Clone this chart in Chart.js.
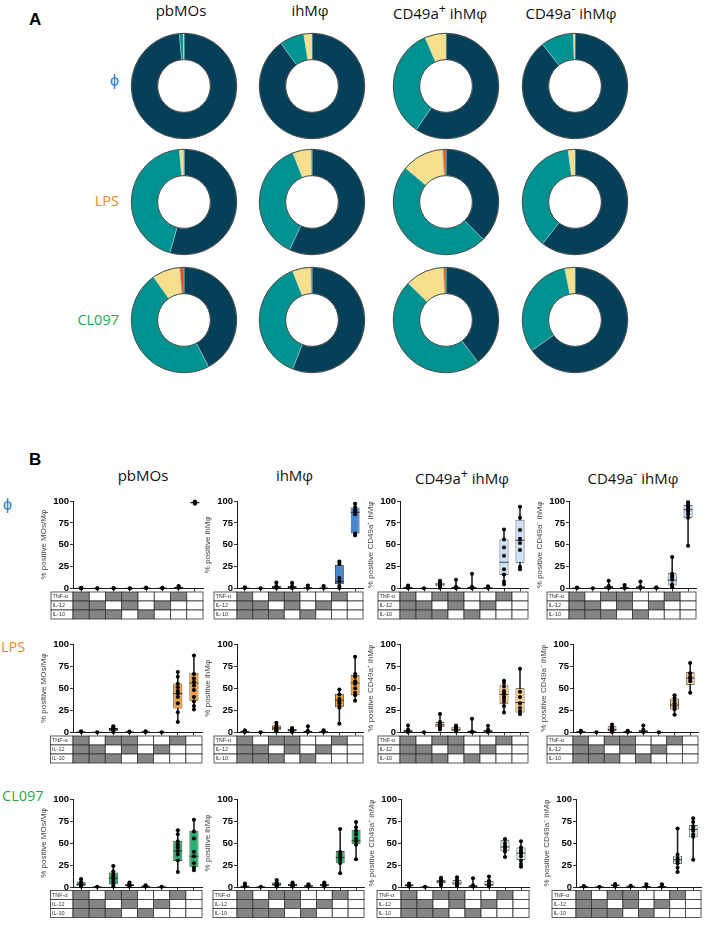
<!DOCTYPE html>
<html>
<head>
<meta charset="utf-8">
<script src="https://cdn.jsdelivr.net/npm/chart.js@4.4.1/dist/chart.umd.min.js"></script>
<style>
body{margin:0;background:#fff;width:708px;height:926px;position:relative;overflow:hidden;font-family:"Open Sans",sans-serif}
.t{position:absolute;white-space:nowrap;line-height:1.25}
canvas{position:absolute}
</style>
</head>
<body>
<script>
// ---------------- data: part A (share of cells making 0/1/2/3 cytokines) ----------------
const stimuli = ["ϕ", "LPS", "CL097"];
const cellTypes = ["pbMOs", "ihMφ", "CD49a<sup>+</sup> ihMφ", "CD49a<sup>-</sup> ihMφ"];
const sliceLabels = ["0 cytokines", "1 cytokine", "2 cytokines", "3 cytokines"];
const phiSlices = [[98.6, 1.2, 0.2, 0], [90, 7.5, 2.5, 0], [59.5, 34, 6.5, 0], [89.5, 10, 0.5, 0]];
const lpsSlices = [[54.3, 44.3, 1.3, 0.1], [57, 37.1, 5.6, 0.3], [37.5, 48.6, 12.9, 1], [60.5, 37.4, 2.1, 0]];
const clSlices = [[42.3, 47.9, 8.5, 1.3], [56, 38, 5.6, 0.4], [39.7, 47.6, 11.9, 0.8], [65.2, 31.7, 3.1, 0]];

// ---------------- data: part B (box = [min, q1, median, q3, max]) ----------------
const comboLabels = ["1", "2", "3", "4", "5", "6", "7", "8"];
const cytokineNames = ["TNF-α", "IL-12", "IL-10"];
const tnfRow = [1, 0, 1, 1, 0, 0, 1, 0];
const il12Row = [1, 1, 0, 1, 0, 1, 0, 0];
const il10Row = [1, 1, 1, 0, 1, 0, 0, 0];
const yTicks = [0, 25, 50, 75, 100];

const phiPbBox = [[0,0,0.3,0.6,1],[0,0,0.2,0.4,0.5],[0,0,0.2,0.5,0.8],[0,0,0.2,0.5,0.8],[0,0.2,0.5,1,1.5],[0,0.1,0.4,0.8,1.2],[0,0.5,1,2,3],[96.5,97.5,98,98.8,99.5]];
const phiPbPts = [[0,0.3,0.6,1],[0,0.3],[0,0.5],[0,0.4],[0.3,1.2],[0.2,0.8],[0.5,1.5,3],[97,98,98.5,99.3]];
const phiIhBox = [[0,0.2,0.5,1,1.5],[0,0,0.3,0.5,0.8],[0,0.5,1.5,3,7],[0,0.5,1.5,3,6.5],[0,0.2,0.5,1.5,3.5],[0,0.2,0.5,1.2,3],[0.5,5,8,27,31],[60,63,87,92.5,97]];
const phiIhPts = [[0.5,1.5],[0.3],[0.5,1.5,3,7],[0.5,1.5,3,6.5],[0.5,3.5],[0.5,3],[31,28,12,8,3,0.5],[97,93,90,88,85,63,61]];
const phiCdpBox = [[0,0.3,0.8,2,3.5],[0,0,0.3,0.5,0.8],[1,2.5,5,6.5,9],[0,0.3,1,2,10],[0,0.3,1,2,17],[0,0.3,0.8,1.5,2.5],[5,15.5,30,56,67.5],[22,29.5,55,78.5,93.5]];
const phiCdpPts = [[0.5,2,3.5],[0.3],[1,2.5,4,5,6,7,9],[0.5,1,2,10],[0.5,1,2,17],[0.5,1.5,2.5],[67.5,56,47,37.5,22,16,8,5],[93.5,81,67,57,52,44,25,22]];
const phiCdmBox = [[0,0.2,0.5,1,1.5],[0,0,0.2,0.4,0.6],[0,0.5,1.5,3,9],[0,0.2,0.8,1.5,4],[0,0.3,1,2.5,8],[0,0.2,0.5,1,1.5],[1.5,3.5,9.5,17.5,36],[49,81,90,95.5,98.5]];
const phiCdmPts = [[0.5,1.2],[0.3],[0.5,1.5,3,9],[0.5,1,4],[0.5,2,8],[0.5,1.5],[36,17,15,13,10,5,3,1.5],[98.5,96,94,92,90,88,85,81,49]];

const lpsPbBox = [[0,0.2,0.5,1,1.5],[0,0,0.3,0.5,0.8],[0.5,1.5,3.5,5,7],[0,0.2,0.5,1,1.2],[0,0.2,0.5,1,1.5],[0,0,0.3,0.5,0.8],[12,27,44,55.5,68.5],[26,36,56,67.5,87]];
const lpsPbPts = [[0.5,1.5],[0.3],[0.5,2,3.5,4.5,5.5,7],[0.5,1.2],[0.5,1.5],[0.3],[68.5,63,55,51,47,44,40,33,23,12],[87,66,61,57,53,48,40,35,30,26]];
const lpsIhBox = [[0.3,0.8,1.2,2,2.5],[0,0,0.3,0.5,0.6],[1,2.5,5,8,11],[0.5,1,2.5,4,5],[0,0.2,0.5,2,7],[0,0.3,0.8,1.5,2.5],[10,28.5,36.5,43.5,48.5],[36,42,56,65,85.5]];
const lpsIhPts = [[0.5,1,1.5,2.5],[0.3],[1,2.5,4,5,6,7.5,11],[0.5,1.5,2.5,3.5,5],[0.5,2,7],[0.5,1.5,2.5],[48.5,43,38,35,33,30,28,10],[85.5,66,63,58,55,50,45,42,36]];
const lpsCdpBox = [[0,0.5,1.5,3,8],[0,0,0.2,0.4,0.6],[3.5,6,8.5,12,21],[1,2,3.5,6,8],[0,0.3,1,2,15.5],[0,0.5,1.5,3,7.5],[22.5,32.5,43,54,58.5],[20,22.5,34,50,72]];
const lpsCdpPts = [[0.5,1.5,3,8],[0.3],[21,12,10,8,7,6,3.5],[1,2,3,4,5,6,8],[0.5,1,15.5],[0.5,1.5,3,7.5],[58.5,56,52,47,44,41,38,35,30,22.5],[72,46,40,33,28,24,21]];
const lpsCdmBox = [[0,0.5,1,1.5,2],[0,0,0.2,0.4,0.5],[0.5,1.5,3.5,7,9],[0,0.3,0.8,1.5,2],[0,0.3,1,3,8],[0,0,0.2,0.4,0.6],[20,26,31,38.5,42],[45,54,61.5,68,78.5]];
const lpsCdmPts = [[0.5,1,2],[0.3],[0.5,1.5,3,5,6,9],[0.5,1,2],[0.5,1,3,8],[0.3],[42,39,36,33,30,28,26,20],[78.5,67,63,61,58,45]];

const clPbBox = [[0,1.5,3,6,9],[0,0,0.2,0.4,0.5],[0,3,10,16.5,24],[0.5,1,2,3,5],[0,0.3,0.8,1.5,2],[0,0,0.2,0.4,0.6],[17,29.5,41,52.5,64.5],[19,23,35,64,76.5]];
const clPbPts = [[0.5,2,3,4,6,9],[0.3],[24,18,15,12,9,6,3,0.5],[0.5,1.5,2.5,3.5,5],[0.5,1,2],[0.3],[64.5,60,52,48,45,41,37,30,17],[76.5,63,55,40,35,27,22,19]];
const clIhBox = [[0,0.3,0.8,1.5,4],[0,0,0.2,0.4,0.5],[0.5,1.5,3,5,8],[0.5,1,2,3.5,5],[0,0.3,1,2,3],[0.5,1,2,3.5,5],[15.5,27,33.5,41,66],[31.5,48.5,52.5,65,74]];
const clIhPts = [[0.5,1,4],[0.3],[0.5,2,3,4,5,8],[0.5,1.5,2.5,3.5,5],[0.5,1.5,3],[0.5,1.5,2.5,3.5,5],[66,40,37,34,31,27,15.5],[74,68,64,60,55,52,48,31.5]];
const clCdpBox = [[0,0.8,1.5,3,4],[0,0,0.2,0.4,0.6],[2,4.5,6,8,10.5],[1,2,4.5,8,11],[0,0.3,1,2,10],[0.5,1.5,3,7,12],[34,40.5,45.5,53,54.5],[23,31,38.5,45,52]];
const clCdpPts = [[0.5,1.5,3,4],[0.3],[2,4,5,6,7,8,10.5],[1,2,4,5,7,8,11],[0.5,1,2,10],[0.5,2,4,6,7,12],[54.5,50,47,45,42,40,34],[52,45,42,40,38,35,30,26,23]];
const clCdmBox = [[0,0.2,0.5,1,1.2],[0,0,0.2,0.4,0.5],[0.5,1,2,2.8,3.5],[0,0.3,0.8,1.2,1.5],[0,0.2,0.5,1,3],[0,0.2,0.5,1,3],[17,26.5,31,35.5,66.5],[31,56.5,65.5,70.5,78]];
const clCdmPts = [[0.5,1],[0.3],[0.5,1.5,2.5,3.5],[0.5,1.5],[0.5,3],[0.5,3],[66.5,37,33,31,29,27,22,17],[78,74,69,66,64,60,57,31]];

// ---------------- styles & layout ----------------
const stimColors = ["#2f7ec6", "#f08a24", "#1faa4a"];
const sliceColors = ["#063f58", "#009191", "#f6e08e", "#e0561c"];
const boxFills = [["#4a86cf","#4a86cf","#cde1f6","#cde1f6"],["#f5a140","#f5a140","#f9c98b","#f9c98b"],["#27b36f","#27b36f","#d4efe4","#d4efe4"]];
const yTitles = ["% positive MOs/Mφ", "% positive ihMφ", "% positive CD49a⁺ ihMφ", "% positive CD49a⁻ ihMφ"];

Chart.defaults.font.family = '"Liberation Sans", Arial, sans-serif';
Chart.defaults.animation = false;

function addText(html, left, top, css) {
    const d = document.createElement("div");
    d.className = "t";
    d.innerHTML = html;
    d.style.left = left + "px";
    d.style.top = top + "px";
    d.style.cssText += css;
    document.body.appendChild(d);
    return d;
}
function addCanvas(left, top, w, h) {
    const c = document.createElement("canvas");
    c.width = w; c.height = h;
    c.style.left = left + "px"; c.style.top = top + "px";
    c.style.width = w + "px"; c.style.height = h + "px";
    document.body.appendChild(c);
    return c;
}

// ---------------- part A ----------------
addText("A", 29, 10, "font:bold 17px 'Liberation Sans';");
const donutX = [184, 311.5, 446, 575];
const donutY = [86, 201.5, 319.5];
const donutTitleX = [181, 310, 440, 571];
cellTypes.forEach((t, i) => addText(t, donutTitleX[i], 1, "font-size:15px;color:#111;transform:translateX(-50%);"));
addText(stimuli[0], 119, 70, "font-size:16px;color:" + stimColors[0] + ";transform:translateX(-100%);");
addText(stimuli[1], 119, 192, "font-size:14.5px;color:" + stimColors[1] + ";transform:translateX(-100%);");
addText(stimuli[2], 119, 311, "font-size:14.5px;color:" + stimColors[2] + ";transform:translateX(-100%);");

const ringOutline = {
    id: "ringOutline",
    afterDatasetsDraw(chart) {
        const arc = chart.getDatasetMeta(0).data[0];
        const {x, y, innerRadius, outerRadius} = arc.getProps(["x", "y", "innerRadius", "outerRadius"], true);
        const ctx = chart.ctx;
        ctx.save();
        ctx.strokeStyle = "#3c3c3c";
        ctx.lineWidth = 0.9;
        ctx.beginPath(); ctx.arc(x, y, outerRadius, 0, Math.PI * 2); ctx.stroke();
        ctx.beginPath(); ctx.arc(x, y, innerRadius, 0, Math.PI * 2); ctx.stroke();
        ctx.restore();
    }
};

[phiSlices, lpsSlices, clSlices].forEach((rowSlices, r) => {
    rowSlices.forEach((vals, c) => {
        const cv = addCanvas(donutX[c] - 56, donutY[r] - 56, 112, 112);
        new Chart(cv, {
            type: "doughnut",
            data: {
                labels: sliceLabels,
                datasets: [{data: vals, backgroundColor: sliceColors, borderColor: "#a9d2d2", borderWidth: 0.5}]
            },
            options: {
                responsive: false,
                cutout: "50%",
                layout: {padding: 3},
                plugins: {legend: {display: false}, tooltip: {enabled: false}}
            },
            plugins: [ringOutline]
        });
    });
});

// ---------------- part B ----------------
addText("B", 29, 450, "font:bold 17px 'Liberation Sans';");
const boxTitleX = [143, 294.5, 462, 633];
cellTypes.forEach((t, i) => addText(t, boxTitleX[i], 466, "font-size:15px;color:#111;transform:translateX(-50%);"));
addText(stimuli[0], 3, 494, "font-size:16px;color:" + stimColors[0] + ";");
addText(stimuli[1], 1, 638, "font-size:14.5px;color:" + stimColors[1] + ";");
addText(stimuli[2], 2, 787, "font-size:14.5px;color:" + stimColors[2] + ";");

// per row, per column: y-axis x, right end of the x axis, width of the table's label column
const axisX = [[72.5, 237, 400, 569], [72.5, 237, 400, 572.5], [72.5, 236.5, 401, 576]];
const rightX = [[202.5, 363, 527.5, 696], [201.5, 363, 528, 697], [201.5, 363, 528.5, 701]];
const labelW = [[22, 23, 22, 22], [22.5, 23, 22, 26], [22.5, 24, 24, 24]];
const rowTop = [501, 644, 798.5];
const rowBottom = [588.5, 732.5, 886.5];
const cytokineRows = [tnfRow, il12Row, il10Row];

const panels = [
    [[phiPbBox, phiPbPts], [phiIhBox, phiIhPts], [phiCdpBox, phiCdpPts], [phiCdmBox, phiCdmPts]],
    [[lpsPbBox, lpsPbPts], [lpsIhBox, lpsIhPts], [lpsCdpBox, lpsCdpPts], [lpsCdmBox, lpsCdmPts]],
    [[clPbBox, clPbPts], [clIhBox, clIhPts], [clCdpBox, clCdpPts], [clCdmBox, clCdmPts]]
];

function makeBoxPanel(r, c) {
    const [box, pts] = panels[r][c];
    const ax = axisX[r][c], lw = labelW[r][c];
    const left = ax - 34, top = rowTop[r] - 8;
    const w = Math.round(rightX[r][c] - left + 4);
    const h = Math.round(rowBottom[r] - top + 34);
    const plotBottom = rowBottom[r] - top;
    const cv = addCanvas(left, top, w, h);

    const points = [];
    pts.forEach((list, i) => list.forEach(v => points.push({x: comboLabels[i], y: v})));

    // median line and whisker caps, drawn right after the boxes
    const boxMarks = {
        id: "boxMarks",
        afterDatasetDraw(chart, args) {
            if (args.index !== 1) return;
            const ctx = chart.ctx, y = chart.scales.y, meta = chart.getDatasetMeta(1);
            ctx.save();
            ctx.strokeStyle = "#1a1a1a";
            ctx.lineWidth = 0.8;
            box.forEach((b, i) => {
                const bar = meta.data[i];
                const half = bar.width / 2, cap = bar.width * 0.22;
                const ym = y.getPixelForValue(b[2]);
                ctx.beginPath();
                ctx.moveTo(bar.x - half, ym); ctx.lineTo(bar.x + half, ym);
                [b[0], b[4]].forEach(v => {
                    const yy = y.getPixelForValue(v);
                    ctx.moveTo(bar.x - cap, yy); ctx.lineTo(bar.x + cap, yy);
                });
                ctx.stroke();
            });
            ctx.restore();
        }
    };

    // the on/off table of cytokine combinations under the x axis
    const comboTable = {
        id: "comboTable",
        afterDraw(chart) {
            const ctx = chart.ctx, area = chart.chartArea, x = chart.scales.x;
            const cw = x.width / comboLabels.length, rh = 9, t0 = area.bottom + 3.5;
            ctx.save();
            ctx.lineWidth = 0.8;
            ctx.strokeStyle = "#333";
            cytokineRows.forEach((row, k) => {
                const yy = t0 + k * rh;
                ctx.fillStyle = "#fff";
                ctx.fillRect(area.left - lw, yy, lw, rh);
                ctx.strokeRect(area.left - lw, yy, lw, rh);
                ctx.fillStyle = "#333";
                ctx.font = '5.5px "Liberation Sans"';
                ctx.textBaseline = "middle";
                ctx.fillText(cytokineNames[k], area.left - lw + 1.5, yy + rh / 2 + 0.3);
                row.forEach((on, i) => {
                    const cx = x.getPixelForValue(i);
                    ctx.fillStyle = on ? "#858585" : "#fff";
                    ctx.fillRect(cx - cw / 2, yy, cw, rh);
                    ctx.strokeRect(cx - cw / 2, yy, cw, rh);
                });
            });
            ctx.restore();
        }
    };

    new Chart(cv, {
        type: "bar",
        data: {
            labels: comboLabels,
            datasets: [
                {
                    label: "range",
                    data: box.map(b => [b[0], b[4]]),
                    backgroundColor: "#1a1a1a",
                    barThickness: 0.9,
                    grouped: false,
                    order: 3
                },
                {
                    label: "box",
                    data: box.map(b => [b[1], b[3]]),
                    backgroundColor: boxFills[r][c],
                    borderColor: "#1a1a1a",
                    borderWidth: 0.8,
                    borderSkipped: false,
                    barPercentage: 0.56,
                    categoryPercentage: 1,
                    grouped: false,
                    order: 2
                },
                {
                    type: "line",
                    label: "donors",
                    data: points,
                    showLine: false,
                    pointRadius: 2,
                    pointBackgroundColor: "#000",
                    pointBorderWidth: 0,
                    clip: false,
                    order: 1
                }
            ]
        },
        options: {
            responsive: false,
            layout: {padding: {top: 8, right: 4, left: 0, bottom: h - plotBottom}},
            plugins: {legend: {display: false}, tooltip: {enabled: false}},
            scales: {
                x: {
                    type: "category",
                    offset: true,
                    grid: {display: true, drawOnChartArea: false, drawTicks: true, tickLength: 3, color: "#333", offset: false},
                    border: {display: true, color: "#1a1a1a", width: 1},
                    ticks: {display: false},
                    afterFit: s => { s.height = 0; }
                },
                y: {
                    min: 0,
                    max: 100,
                    grid: {display: true, drawOnChartArea: false, drawTicks: true, tickLength: 3, color: "#333"},
                    border: {display: true, color: "#1a1a1a", width: 1},
                    afterBuildTicks: s => { s.ticks = yTicks.map(v => ({value: v})); },
                    ticks: {font: {size: 9.5, weight: "bold"}, color: "#000", padding: 1},
                    title: {display: true, text: yTitles[c], font: {size: 8}, color: "#444", padding: 0},
                    afterFit: s => { s.width = ax - left; }
                }
            }
        },
        plugins: [boxMarks, comboTable]
    });
}

for (let r = 0; r < 3; r++) {
    for (let c = 0; c < 4; c++) makeBoxPanel(r, c);
}
</script>
</body>
</html>
